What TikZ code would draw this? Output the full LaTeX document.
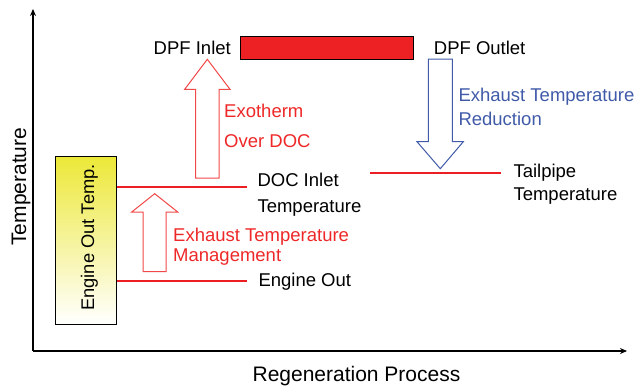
\documentclass[tikz,border=0pt]{standalone}
\usepackage{fontspec}
\setmainfont{Liberation Sans}
\usetikzlibrary{arrows.meta}
\definecolor{lblred}{RGB}{238,40,40}
\definecolor{lblblue}{RGB}{64,90,168}
\definecolor{barred}{RGB}{237,32,36}
\definecolor{linered}{RGB}{236,30,36}
\definecolor{boxyel}{RGB}{236,232,56}
\begin{document}
\begin{tikzpicture}[x=1pt,y=-1pt,
  lbl/.style={font=\fontsize{18.5}{18.5}\selectfont, inner sep=0pt, anchor=base west},
  biglbl/.style={font=\fontsize{21}{21}\selectfont, inner sep=0pt, anchor=base},
  axis/.style={line width=2.4pt, -{Stealth[length=7pt,width=6pt]}},
  level/.style={draw=linered, line width=2.2pt},
  uparrow/.style={draw=lblred!85, line width=1pt, fill=white},
  downarrow/.style={draw=lblblue, line width=1pt, fill=white}]
\useasboundingbox (0,0) rectangle (639,388);
% axes
\coordinate (O) at (33,351);
\coordinate (ytop) at (33,9);
\coordinate (xend) at (627,351);
\draw[axis] (O) -- (ytop);
\draw[axis] (O) -- (xend);
\node[biglbl, rotate=90] (ylab) at (26,186.7) {Temperature};
\node[biglbl] (xlab) at (356.5,381.7) {Regeneration Process};
% engine out temp box
\path[draw=black, line width=0.8pt, top color=boxyel, bottom color=white, middle color=boxyel!50] (55,156) rectangle (116,324);
\node[font=\fontsize{18.3}{18.3}\selectfont, inner sep=0pt, anchor=base, rotate=90] (eot) at (94,237.5) {Engine Out Temp.};
% level lines
\coordinate (doc1) at (117,187.3);
\coordinate (doc2) at (247,187.3);
\coordinate (eo1) at (117,281);
\coordinate (eo2) at (247,281);
\coordinate (tp1) at (370,173.3);
\coordinate (tp2) at (501,173.3);
\draw[level] (doc1) -- (doc2);
\draw[level] (eo1) -- (eo2);
\draw[level] (tp1) -- (tp2);
% block arrows
\path[uparrow] (143,271.7) -- (143,212) -- (131.7,212) -- (154.7,193.7) -- (177.7,212) -- (166,212) -- (166,271.7) -- cycle;
\path[uparrow] (195.7,178) -- (195.7,89.3) -- (184.7,89.3) -- (207.3,59.3) -- (230,89.3) -- (219,89.3) -- (219,178) -- cycle;
\path[downarrow] (428.3,59) -- (428.3,141.7) -- (417,141.7) -- (440.3,168.7) -- (463.3,141.7) -- (452.3,141.7) -- (452.3,59) -- cycle;
% DPF bar
\path[draw=black, line width=1pt, fill=barred] (240,36) rectangle (413,59);
% labels
\node[lbl] (dpfin) at (153.5,54) {DPF Inlet};
\node[lbl] (dpfout) at (433.7,54) {DPF Outlet};
\node[lbl, text=lblred] (exo1) at (224,117.3) {Exotherm};
\node[lbl, text=lblred] (exo2) at (224,147.7) {Over DOC};
\node[lbl, text=lblblue] (red1) at (458.3,101.7) {Exhaust Temperature};
\node[lbl, text=lblblue] (red2) at (458.3,125) {Reduction};
\node[lbl] (doc1lab) at (257.3,186.7) {DOC Inlet};
\node[lbl] (doc2lab) at (257.3,212.3) {Temperature};
\node[lbl, text=lblred] (etm1) at (173,241.7) {Exhaust Temperature};
\node[lbl, text=lblred] (etm2) at (173,261.7) {Management};
\node[lbl] (eolab) at (258.3,286.7) {Engine Out};
\node[lbl] (tp1lab) at (513.3,177.3) {Tailpipe};
\node[lbl] (tp2lab) at (513.3,200.7) {Temperature};
\end{tikzpicture}
\end{document}
